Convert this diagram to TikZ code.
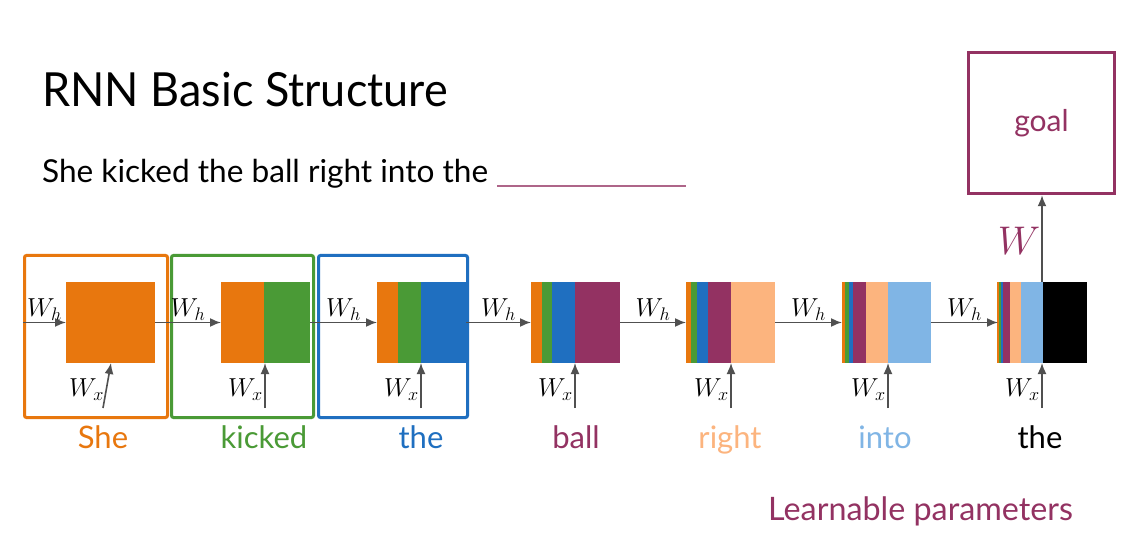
\RequirePackage{fix-cm}
\documentclass[tikz,border=0pt]{standalone}
\usepackage{fontspec}
\setmainfont{Lato}
\usetikzlibrary{arrows.meta,calc}

\definecolor{cOrange}{HTML}{E8770E}
\definecolor{cGreen}{HTML}{4A9A36}
\definecolor{cBlue}{HTML}{1F6FC0}
\definecolor{cMaroon}{HTML}{933262}
\definecolor{cPeach}{HTML}{FCB47E}
\definecolor{cLight}{HTML}{80B5E5}
\definecolor{cArrow}{HTML}{505050}

\tikzset{
  cell/.style={minimum width=89pt, minimum height=81pt, inner sep=0pt, outer sep=0pt, anchor=north west},
  flow/.style={draw=cArrow, line width=1.6pt, -{Latex[length=11pt,width=9pt]}},
  wlab/.style={font=\fontsize{26}{26}\selectfont, inner sep=1.5pt},
  hilite/.style={line width=3pt, rounded corners=2pt, minimum height=162pt, inner sep=0pt, anchor=north west},
  word/.style={font=\fontsize{31}{31}\selectfont, anchor=base, inner sep=0pt},
}

% one coloured band of a hidden-state cell
\newcommand{\band}[3]{\fill[#3] (#1,282) rectangle (#2,363);}

\begin{document}
\begin{tikzpicture}[x=1pt,y=-1pt]
\fill[white] (0,0) rectangle (1136,540);
\useasboundingbox (0,0) rectangle (1136,540);

% headings
\node[anchor=base west, inner sep=0pt, xscale=0.957, font=\fontsize{47}{47}\selectfont] (title) at (42,107) {RNN Basic Structure};
\node[anchor=base west, inner sep=0pt, font=\fontsize{31.6}{31.6}\selectfont] (sentence) at (42,183) {She kicked the ball right into the};
\draw[cMaroon!75, line width=1.6pt] (497,186) -- (686,186);

% coloured bands of the hidden states
\band{66}{155}{cOrange}
\band{221}{264}{cOrange}\band{264}{310}{cGreen}
\band{377}{398}{cOrange}\band{398}{421}{cGreen}\band{421}{466}{cBlue}
\band{531}{542}{cOrange}\band{542}{552}{cGreen}\band{552}{575}{cBlue}\band{575}{620}{cMaroon}
\band{686}{691}{cOrange}\band{691}{697}{cGreen}\band{697}{708}{cBlue}\band{708}{731}{cMaroon}\band{731}{775}{cPeach}
\band{842}{845}{cOrange}\band{845}{849}{cGreen}\band{849}{853}{cBlue}\band{853}{866}{cMaroon}\band{866}{888}{cPeach}\band{888}{931}{cLight}
\band{997}{998.5}{cOrange}\band{998.5}{1000.5}{cGreen}\band{1000.5}{1003}{cBlue}\band{1003}{1010}{cMaroon}\band{1010}{1021}{cPeach}\band{1021}{1043}{cLight}\band{1043}{1087}{black}

% cell outlines (named anchors)
\node[cell] (c1) at (66,282) {};
\node[cell] (c2) at (221,282) {};
\node[cell] (c3) at (377,282) {};
\node[cell] (c4) at (531,282) {};
\node[cell] (c5) at (686,282) {};
\node[cell] (c6) at (842,282) {};
\node[cell] (c7) at (998,282) {};

% highlight frames of the first three steps
\node[hilite, draw=cOrange, minimum width=143pt] (box1) at (23,254) {};
\node[hilite, draw=cGreen, minimum width=142pt] (box2) at (170,254) {};
\node[hilite, draw=cBlue, minimum width=149pt] (box3) at (317,254) {};

% recurrent connections
\coordinate (h0) at (box1.west |- c1.west);
\draw[flow] (h0) -- node[above, wlab] {$W_h$} (c1.west);
\draw[flow] (c1.east) -- node[above, wlab] {$W_h$} (c2.west);
\draw[flow] (c2.east) -- node[above, wlab] {$W_h$} (c3.west);
\draw[flow] (c3.east) -- node[above, wlab] {$W_h$} (c4.west);
\draw[flow] (c4.east) -- node[above, wlab] {$W_h$} (c5.west);
\draw[flow] (c5.east) -- node[above, wlab] {$W_h$} (c6.west);
\draw[flow] (c6.east) -- node[above, wlab] {$W_h$} (c7.west);

% input connections
\coordinate (x1) at (103,408);
\coordinate (x1t) at (111,363);
\coordinate (x2) at (265,408);
\coordinate (x3) at (421,408);
\coordinate (x4) at (575,408);
\coordinate (x5) at (731,408);
\coordinate (x6) at (888,408);
\coordinate (x7) at (1042,408);
\draw[flow] (x1) -- node[pos=.4, left, wlab] {$W_x$} (x1t);
\foreach \i in {2,...,7}{
  \draw[flow] (x\i) -- node[pos=.4, left, wlab] {$W_x$} (x\i |- c\i.south);
}

% output
\node[draw=cMaroon, line width=3.5pt, minimum width=146pt, minimum height=141pt, text=cMaroon,
      font=\fontsize{30}{30}\selectfont] (goal) at (1041.5,123) {goal};
\draw[flow] (x7 |- c7.north) -- node[pos=.47, left, inner sep=1pt, text=cMaroon, font=\fontsize{40}{40}\selectfont] {$W$} (x7 |- goal.south);

% words
\node[word, text=cOrange] (w1) at (103,448) {She};
\node[word, text=cGreen] (w2) at (264,448) {kicked};
\node[word, text=cBlue] (w3) at (421,448) {the};
\node[word, text=cMaroon] (w4) at (576,448) {ball};
\node[word, text=cPeach] (w5) at (730,448) {right};
\node[word, text=cLight] (w6) at (885,448) {into};
\node[word, text=black] (w7) at (1040,448) {the};

\node[anchor=base west, inner sep=0pt, text=cMaroon, font=\fontsize{32.3}{32.3}\selectfont] (learn) at (768,520) {Learnable parameters};
\end{tikzpicture}
\end{document}
